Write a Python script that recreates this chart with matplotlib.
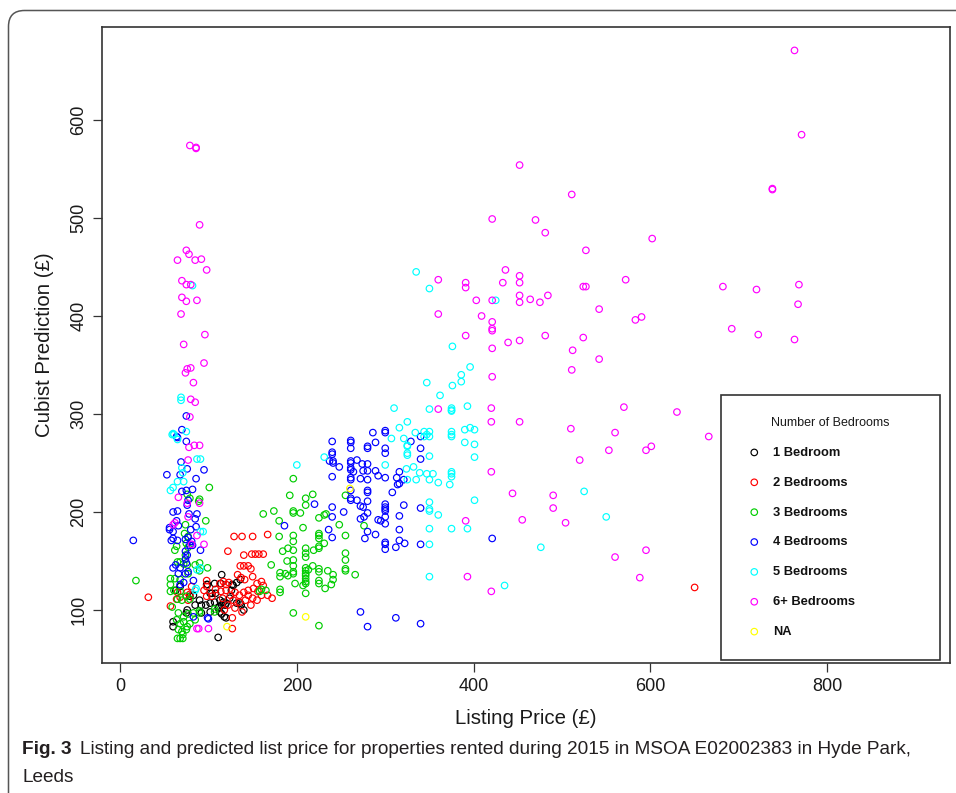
import matplotlib
matplotlib.use("Agg")
import matplotlib.pyplot as plt
from matplotlib import font_manager
from matplotlib.patches import FancyBboxPatch
from matplotlib.transforms import IdentityTransform

plt.rcParams['font.family'] = ['Liberation Sans', 'DejaVu Sans']

# ---------------- data ----------------
categories = ['1 Bedroom', '2 Bedrooms', '3 Bedrooms', '4 Bedrooms',
              '5 Bedrooms', '6+ Bedrooms', 'NA']
colors = ['#000000', '#FF0000', '#00CD00', '#0000FF', '#00FFFF', '#FF00FF', '#FFFF00']
x_ticks = [0, 200, 400, 600, 800]
y_ticks = [100, 200, 300, 400, 500, 600]

x_1bed = [115, 107, 99, 104, 98, 114, 63, 68, 83, 79, 76, 85, 90, 60, 60, 75, 92, 128, 132, 136,
          136, 140, 111, 107, 113, 117, 119, 111, 102, 113, 120, 102, 108, 127, 92, 97, 102, 112,
          115, 120, 132, 137, 118, 115, 124, 126]
y_1bed = [136, 127, 126, 117, 126, 127, 120, 124, 115, 114, 100, 105, 110, 88, 83, 97, 97, 125, 128, 131,
          107, 100, 72, 108, 110, 108, 105, 102, 98, 98, 92, 117, 117, 126, 105, 105, 107, 103,
          105, 107, 107, 105, 93, 96, 112, 120]

x_2bed = [32, 57, 65, 68, 64, 76, 81, 79, 77, 98, 98, 95, 122, 129, 138, 150, 167, 140, 149, 153,
          157, 162, 136, 140, 145, 148, 133, 137, 141, 150, 113, 117, 120, 123, 155, 160, 162, 151,
          156, 160, 167, 172, 98, 104, 108, 114, 116, 127, 127, 120, 125, 130, 135, 140, 145, 150,
          128, 135, 142, 148, 122, 118, 130, 138, 145, 155, 650]
y_2bed = [113, 104, 118, 113, 111, 118, 124, 116, 110, 130, 124, 120, 160, 175, 175, 175, 177, 156, 157, 157,
          157, 157, 145, 145, 145, 142, 136, 133, 131, 134, 127, 129, 126, 128, 127, 129, 125, 122,
          119, 115, 115, 112, 114, 114, 121, 119, 112, 92, 81, 120, 115, 118, 115, 118, 120, 112,
          110, 108, 110, 105, 105, 100, 102, 98, 115, 110, 123]

x_3bed = [18, 76, 79, 90, 89, 74, 73, 77, 75, 64, 62, 74, 77, 65, 68, 72, 76, 85, 90, 90,
          77, 57, 62, 68, 57, 61, 57, 68, 65, 70, 75, 79, 66, 72, 77, 83, 85, 64, 68, 72,
          76, 79, 66, 70, 75, 65, 68, 71, 71, 59, 90, 90, 107, 101, 97, 99, 107,
          162, 174, 180, 196, 196, 204, 210, 218, 210, 196, 192, 255, 180, 196, 196, 207, 225, 231,
          233, 248, 276, 255, 225, 225, 225, 231, 225, 225, 219, 210, 210, 210, 196, 190, 184, 171,
          196, 196, 196, 196, 189, 181, 181, 187, 190, 198, 207, 210, 210, 210, 210, 210, 210, 210,
          213, 218, 225, 225, 225, 225, 235, 241, 241, 239, 232, 255, 255, 255, 255, 266, 210, 196,
          225, 181, 181, 160, 165, 158]
y_3bed = [130, 218, 214, 213, 211, 187, 178, 175, 168, 165, 161, 156, 164, 149, 149, 147, 146, 146, 148, 140,
          137, 132, 132, 131, 126, 120, 119, 119, 111, 110, 114, 111, 97, 93, 96, 97, 90, 90, 86, 88,
          83, 86, 80, 78, 80, 71, 71, 71, 75, 103, 97, 99, 101, 225, 191, 143, 98,
          198, 201, 191, 201, 199, 199, 214, 218, 207, 234, 217, 217, 175, 176, 170, 184, 194, 197,
          198, 187, 186, 176, 178, 176, 173, 168, 165, 163, 161, 163, 158, 154, 161, 163, 160, 146,
          151, 145, 139, 137, 150, 138, 134, 137, 135, 127, 125, 143, 140, 137, 135, 132, 129, 127,
          141, 145, 142, 139, 130, 127, 140, 136, 131, 126, 122, 158, 151, 142, 140, 136, 117, 97,
          84, 121, 118, 121, 120, 119]

x_4bed = [75, 70, 65, 75, 69, 76, 68, 53, 95, 86, 70, 75, 82, 77, 76, 60, 65, 78, 87, 85,
          64, 56, 66, 86, 80, 56, 60, 15, 60, 58, 65, 74, 77, 81, 79, 82, 74, 76, 74, 91,
          60, 63, 68, 66, 75, 77, 74, 83, 72, 68, 99, 100, 83, 64,
          240, 240, 240, 237, 241, 241, 248, 240, 220, 186, 240, 240, 236, 240, 253, 261, 261, 261,
          261, 261, 261, 261, 261, 261, 268, 264, 272, 280, 280, 289, 286, 300, 300, 274, 280, 275,
          280, 280, 289, 292, 300, 300, 300, 316, 313, 321, 316, 314, 308, 329, 340, 340, 340, 261,
          261, 261, 268, 272, 275, 272, 280, 280, 280, 280, 276, 280, 277, 289, 292, 295, 300, 300,
          300, 300, 300, 300, 300, 300, 300, 312, 316, 316, 316, 322, 321, 340, 340, 421, 272, 280,
          312, 340]
y_4bed = [298, 284, 276, 272, 251, 244, 238, 238, 243, 234, 221, 222, 223, 212, 207, 200, 201, 198, 198, 193,
          191, 184, 186, 185, 182, 182, 180, 171, 173, 171, 171, 172, 174, 170, 166, 166, 160, 156, 152, 161,
          143, 146, 143, 137, 148, 139, 137, 130, 128, 126, 92, 91, 93, 277,
          272, 261, 259, 252, 252, 250, 246, 236, 208, 186, 205, 195, 182, 174, 200, 273, 271, 265,
          252, 250, 245, 243, 235, 233, 253, 241, 234, 267, 265, 271, 281, 283, 281, 249, 249, 242,
          242, 233, 242, 237, 265, 260, 235, 241, 235, 233, 229, 228, 220, 272, 265, 254, 277, 222,
          214, 212, 212, 206, 205, 193, 222, 220, 211, 199, 195, 180, 173, 177, 192, 191, 208, 205,
          203, 201, 195, 188, 169, 167, 162, 164, 196, 182, 171, 168, 207, 204, 167, 173, 98, 83,
          92, 86]

x_5bed = [69, 59, 61, 75, 65, 87, 91, 70, 71, 65, 72, 57, 60, 91, 94, 87, 91, 85, 86, 82, 69, 60,
          200, 335, 350, 425, 376, 396, 386, 386, 347, 376, 362, 310, 350, 375, 375, 375, 393, 325,
          316, 344, 350, 344, 350, 347, 390, 396, 401, 375, 375, 375, 307, 321, 325, 325, 334, 390,
          401, 325, 325, 350, 401, 231, 300, 324, 332, 339, 347, 354, 325, 335, 350, 360, 373, 375,
          375, 375, 401, 350, 350, 350, 360, 350, 375, 393, 350, 350, 435, 476, 525, 550]
y_5bed = [314, 279, 279, 282, 274, 254, 254, 245, 240, 231, 231, 222, 225, 180, 180, 141, 143, 120, 122, 431, 317, 280,
          248, 445, 428, 416, 369, 348, 340, 333, 332, 329, 319, 306, 305, 306, 304, 303, 308, 292,
          286, 282, 282, 277, 277, 279, 284, 286, 284, 282, 279, 277, 275, 275, 268, 267, 281, 271,
          269, 260, 258, 257, 256, 256, 248, 244, 246, 240, 239, 239, 233, 233, 233, 230, 228, 241,
          239, 236, 212, 210, 203, 201, 197, 183, 183, 183, 167, 134, 125, 164, 221, 195]

x_6bed = [79, 86, 86, 90, 75, 78, 65, 85, 92, 98, 70, 75, 80, 70, 75, 87, 69, 96, 72, 95,
          76, 80, 74, 83, 80, 85, 79, 84, 90, 78, 77, 66, 76, 90, 77, 60, 62, 81, 95, 87,
          87, 89, 100,
          763, 771, 738, 738, 452, 511, 421, 470, 481, 602, 527, 436, 360, 391, 391, 452, 452, 433,
          572, 524, 527, 682, 720, 768, 767, 403, 421, 452, 452, 464, 475, 484, 542, 360, 409, 421,
          421, 421, 583, 590, 692, 722, 763, 391, 452, 439, 481, 524, 421, 512, 542, 511, 421, 420,
          360, 420, 452, 570, 630, 510, 560, 666, 553, 595, 601, 520, 420, 444, 490, 490, 455, 504,
          391, 393, 420, 595, 560, 588]
y_6bed = [574, 572, 571, 493, 467, 463, 457, 457, 458, 447, 436, 432, 432, 419, 415, 416, 402, 381, 371, 352,
          346, 347, 342, 332, 315, 312, 297, 268, 268, 266, 253, 215, 209, 209, 195, 187, 189, 167, 167, 176,
          81, 81, 81,
          671, 585, 529, 530, 554, 524, 499, 498, 485, 479, 467, 447, 437, 434, 429, 441, 434, 434,
          437, 430, 430, 430, 427, 432, 412, 416, 416, 421, 414, 417, 414, 421, 407, 402, 400, 394,
          387, 385, 396, 399, 387, 381, 376, 380, 375, 373, 380, 378, 367, 365, 356, 345, 338, 306,
          305, 292, 292, 307, 302, 285, 281, 277, 263, 263, 267, 253, 241, 219, 217, 204, 192, 189,
          191, 134, 119, 161, 154, 133]

x_na = [121, 210, 260]
y_na = [83, 93, 224]

series_x = [x_1bed, x_2bed, x_3bed, x_4bed, x_5bed, x_6bed, x_na]
series_y = [y_1bed, y_2bed, y_3bed, y_4bed, y_5bed, y_6bed, y_na]

# ---------------- figure ----------------
W, H = 956, 793
fig = plt.figure(figsize=(W / 100, H / 100), dpi=100)
fig.patch.set_facecolor('white')

ax_l, ax_r, ax_t, ax_b = 102, 950, 26.7, 663
ax = fig.add_axes([ax_l / W, 1 - ax_b / H, (ax_r - ax_l) / W, (ax_b - ax_t) / H])

handles = []
for xs, ys, col, lab in zip(series_x, series_y, colors, categories):
    h = ax.scatter(xs, ys, s=22, facecolors='none', edgecolors=col, linewidths=0.85,
                   label=lab, zorder=3)
    handles.append(h)

ax.set_xlim(-20.4, 938.9)
ax.set_ylim(45.9, 695.2)
ax.set_xticks(x_ticks)
ax.set_yticks(y_ticks)
ax.set_xticklabels([str(v) for v in x_ticks])
ax.set_yticklabels([str(v) for v in y_ticks])

for sp in ax.spines.values():
    sp.set_color('#333333')
    sp.set_linewidth(1.2)
ax.tick_params(axis='both', direction='out', length=6.5, width=0.9, color='#333333',
               labelsize=13, labelcolor='#1a1a1a', pad=4.0)
ax.tick_params(axis='y', labelrotation=90)
for lbl in ax.get_yticklabels():
    lbl.set_verticalalignment('center')

ax.set_xlabel('Listing Price (£)', fontsize=14.7, color='#1a1a1a')
ax.set_ylabel('Cubist Prediction (£)', fontsize=14.7, color='#1a1a1a')
ax.xaxis.set_label_coords(0.5, (ax_b - 718) / (ax_b - ax_t))
ax.xaxis.label.set_verticalalignment('center')
ax.yaxis.set_label_coords((45 - ax_l) / (ax_r - ax_l), 0.5)
ax.yaxis.label.set_verticalalignment('center')

# legend
leg_l, leg_r, leg_t, leg_b = 721, 940, 395, 658
leg = ax.legend(handles=handles, labels=categories, loc='upper left',
                bbox_to_anchor=(leg_l / W, 1 - leg_b / H, (leg_r - leg_l) / W, (leg_b - leg_t) / H),
                bbox_transform=fig.transFigure, mode='expand', borderaxespad=0,
                title='Number of Bedrooms', title_fontproperties={'size': 9},
                prop={'size': 9.3, 'weight': 'bold'}, scatterpoints=1,
                borderpad=1.7, labelspacing=1.38, handlelength=1.75, handletextpad=0.55,
                frameon=True, fancybox=False, edgecolor='#333333', framealpha=1)
leg.get_frame().set_linewidth(1.2)
leg.get_title().set_color('#1a1a1a')
for t in leg.get_texts():
    t.set_color('#111111')

# outer journal frame
frame = FancyBboxPatch((8.5, -60), 1100, (H - 10.5) + 60,
                       boxstyle='round,pad=0,rounding_size=16',
                       transform=IdentityTransform(), fill=False,
                       edgecolor='#555555', linewidth=1.1)
fig.add_artist(frame)

# caption
names = {f.name for f in font_manager.fontManager.ttflist}
cap_fam = 'Liberation Sans Narrow' if 'Liberation Sans Narrow' in names else 'Liberation Sans'
rest = ('Listing and predicted list price for properties rented during 2015 in MSOA '
        'E02002383 in Hyde Park,')
renderer = fig.canvas.get_renderer()
cap_col = '#231f20'
size = 15.0
for _ in range(4):
    t1 = fig.text(22 / W, 1 - 754 / H, 'Fig. 3', fontsize=size, fontweight='bold',
                  family=cap_fam, va='baseline', ha='left')
    bb1 = t1.get_window_extent(renderer)
    t2 = fig.text((bb1.x1 + size * 0.65) / W, 1 - 754 / H, rest, fontsize=size,
                  family=cap_fam, va='baseline', ha='left')
    bb2 = t2.get_window_extent(renderer)
    width = bb2.x1 - 22
    t1.remove()
    t2.remove()
    size = min(16.0, size * 896 / width)

t1 = fig.text(22 / W, 1 - 754 / H, 'Fig. 3', fontsize=size, fontweight='bold',
              family=cap_fam, color=cap_col, va='baseline', ha='left')
bb1 = t1.get_window_extent(renderer)
fig.text((bb1.x1 + size * 0.65) / W, 1 - 754 / H, rest, fontsize=size,
         family=cap_fam, color=cap_col, va='baseline', ha='left')
fig.text(22 / W, 1 - 782 / H, 'Leeds', fontsize=size, family=cap_fam, color=cap_col,
         va='baseline', ha='left')

fig.savefig('out.png', dpi=100)
